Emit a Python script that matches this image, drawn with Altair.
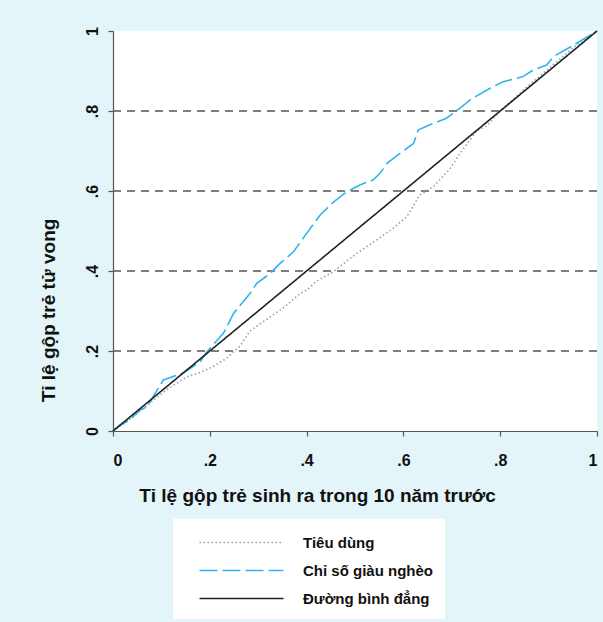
import altair as alt
import pandas as pd

series_names = ["Tiêu dùng", "Chỉ số giàu nghèo", "Đường bình đẳng"]
series_colors = ["#7fa9c2", "#2fb4ee", "#222222"]
series_dashes = [[1.5, 2.5], [18, 5], [1, 0]]

# Tiêu dùng (consumption)
td_x = [0, .03, .056, .085, .11, .131, .152, .18, .205, .235, .262, .283, .304, .352, .387, .40,
        .421, .455, .497, .524, .545, .579, .607, .634, .662, .696, .717, .751, .772, .80, .855,
        .904, .952, 1]
td_y = [0, .025, .05, .078, .1025, .119, .135, .146, .16, .182, .212, .25, .268, .308, .344, .352,
        .375, .398, .438, .461, .478, .507, .536, .59, .611, .655, .694, .75, .762, .80, .86,
        .91, .96, 1]

# Chỉ số giàu nghèo (wealth index)
gn_x = [0, .015, .035, .056, .07, .104, .145, .18, .194, .228, .249, .283, .297, .325, .345, .373,
        .40, .428, .456, .483, .51, .538, .552, .566, .593, .621, .631, .662, .689, .717, .738,
        .779, .806, .847, .868, .896, .91, .952, 1]
gn_y = [0, .015, .028, .0525, .06, .1275, .145, .173, .198, .244, .294, .344, .369, .394, .419, .448,
        .494, .54, .573, .598, .615, .628, .645, .669, .694, .719, .753, .769, .782, .807, .828,
        .857, .873, .886, .9025, .915, .936, .965, 1]

# Đường bình đẳng (equality line)
eq_x = [0, 1]
eq_y = [0, 1]

grid_vals = [.2, .4, .6, .8]
tick_vals = [0, .2, .4, .6, .8, 1]

x_title = "Tỉ lệ gộp trẻ sinh ra trong 10 năm trước"
y_title = "Tỉ lệ gộp trẻ tử vong"

rows = []
for name, xs, ys in zip(series_names, [td_x, gn_x, eq_x], [td_y, gn_y, eq_y]):
    for i, (xv, yv) in enumerate(zip(xs, ys)):
        rows.append({"series": name, "x": xv, "y": yv, "i": i})
df = pd.DataFrame(rows)
grid_df = pd.DataFrame({"g": grid_vals})

FONT = "Liberation Sans"
label_expr = "datum.value == 0 ? '0' : datum.value == 1 ? '1' : replace(format(datum.value, '.1f'), '0.', '.')"

legend = alt.Legend(
    title=None, orient="none", legendX=60, legendY=488,
    fillColor="white", padding=12, symbolType="M-4,0L4,0", symbolSize=441,
    symbolOffset=45, symbolStrokeWidth=1.5, labelFont=FONT, labelFontSize=15, labelFontWeight="bold",
    labelColor="#111", labelOffset=50, rowPadding=8,
)

xscale = alt.Scale(domain=[0, 1], nice=False)
yscale = alt.Scale(domain=[0, 1], nice=False)

grid = alt.Chart(grid_df).mark_rule(color="#555", strokeDash=[8, 6], strokeWidth=1.3).encode(
    y=alt.Y("g:Q", scale=yscale)
)

lines = alt.Chart(df).mark_line(strokeWidth=1.6).encode(
    x=alt.X("x:Q", scale=xscale, axis=alt.Axis(
        values=tick_vals, labelExpr=label_expr, title=x_title, grid=False,
        titleX=204, titlePadding=18, labelPadding=16)),
    y=alt.Y("y:Q", scale=yscale, axis=alt.Axis(
        values=tick_vals, labelExpr=label_expr, title=y_title, grid=False,
        labelAngle=270, labelAlign="center", labelBaseline="bottom",
        titleY=279, titlePadding=26, labelPadding=8)),
    color=alt.Color("series:N", scale=alt.Scale(domain=series_names, range=series_colors), legend=legend),
    strokeDash=alt.StrokeDash("series:N", scale=alt.Scale(domain=series_names, range=series_dashes), legend=legend),
    order=alt.Order("i:Q"),
)

chart = alt.layer(grid, lines).properties(
    width=484, height=400,
    autosize=alt.AutoSizeParams(type="none"),
    padding={"left": 113, "top": 31, "right": 6, "bottom": 191},
    background="#e3f5f9",
).configure_view(
    fill="white", stroke=None
).configure_axis(
    domainColor="#555", domainWidth=1.2, tickColor="#555", tickSize=5, tickWidth=1.2,
    labelFont=FONT, labelFontSize=16, labelFontWeight="bold", labelColor="#111",
    titleFont=FONT, titleFontSize=19, titleFontWeight="bold", titleColor="#111",
)

chart.save("out.html", embed_options={"renderer": "svg", "actions": False})
